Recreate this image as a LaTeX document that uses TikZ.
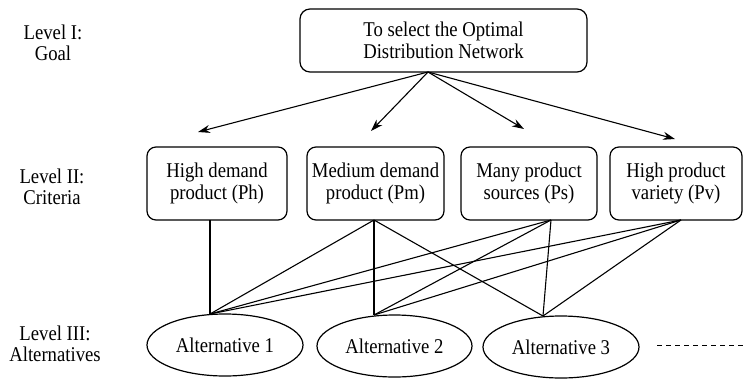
\documentclass[tikz,border=0pt]{standalone}
\usepackage{fontspec}
\setmainfont{Liberation Serif}[FakeStretch=0.89]
\usetikzlibrary{arrows.meta,shapes.geometric}
\begin{document}
\begin{tikzpicture}[x=1pt,y=-1pt,
  every node/.style={font=\fontsize{21}{21.5}\selectfont, align=center, inner sep=0pt},
  boxc/.style={draw, rounded corners=9pt, line width=1.2pt, minimum height=73pt},
  goalbox/.style={draw, rounded corners=10pt, line width=1.2pt, minimum width=287pt, minimum height=63pt},
  altc/.style={draw, ellipse, line width=1.2pt, minimum width=156pt, minimum height=62pt},
  link/.style={line width=1.1pt},
  arr/.style={line width=1.1pt, -{Stealth[length=12pt,width=8pt]}},
  lvl/.style={}
]
\useasboundingbox (0,0) rectangle (744,378);
% level labels
\node[lvl] (l1) at (53,43) {Level I:\\Goal};
\node[lvl] (l2) at (52,187) {Level II:\\Criteria};
\node[lvl] (l3) at (55,344) {Level III:\\Alternatives};
% goal
\node[goalbox] (goal) at (443.5,40.5) {To select the Optimal\\Distribution Network};
% criteria
\node[boxc, minimum width=140pt] (ph) at (217,183.5) {High demand\\product (Ph)};
\node[boxc, minimum width=137pt] (pm) at (375.5,183.5) {Medium demand\\product (Pm)};
\node[boxc, minimum width=136pt] (ps) at (529,183.5) {Many product\\sources (Ps)};
\node[boxc, minimum width=132pt] (pv) at (676,183.5) {High product\\variety (Pv)};
% alternatives
\node[altc] (a1) at (225,345) {Alternative 1};
\node[altc, minimum width=155pt] (a2) at (394.5,346) {Alternative 2};
\node[altc] (a3) at (561,347) {Alternative 3};
% connection points
\coordinate (gb) at (428,72);
\coordinate (t1) at (198,132);
\coordinate (t2) at (371,131);
\coordinate (t3) at (524,129);
\coordinate (t4) at (675,139);
\coordinate (phb) at (210,220);
\coordinate (pmb) at (374,220);
\coordinate (psb) at (551,220);
\coordinate (pvb) at (681,220);
\coordinate (a1t) at (210,314);
\coordinate (a2t) at (374,315);
\coordinate (a3t) at (543,316);
% arrows
\draw[arr] (gb) -- (t1);
\draw[arr] (gb) -- (t2);
\draw[arr] (gb) -- (t3);
\draw[arr] (gb) -- (t4);
% links
\draw[link] (phb) -- (a1t);
\draw[link] (pmb) -- (a1t);
\draw[link] (pmb) -- (a2t);
\draw[link] (pmb) -- (a3t);
\draw[link] (psb) -- (a1t);
\draw[link] (psb) -- (a2t);
\draw[link] (psb) -- (a3t);
\draw[link] (pvb) -- (a1t);
\draw[link] (pvb) -- (a2t);
\draw[link] (pvb) -- (a3t);
% dashed continuation
\coordinate (d1) at (657,345);
\coordinate (d2) at (743,345);
\draw[line width=1pt, dash pattern=on 5pt off 4pt] (d1) -- (d2);
\end{tikzpicture}
\end{document}
